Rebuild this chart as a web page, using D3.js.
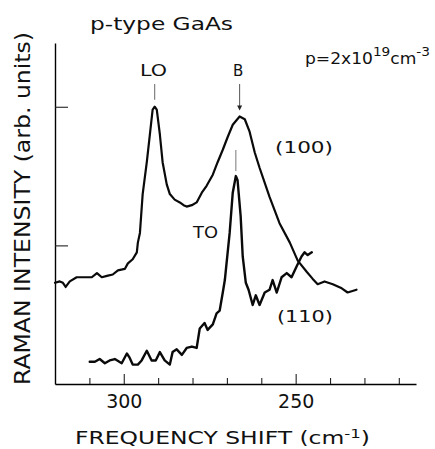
<!DOCTYPE html>
<html>
<head>
<meta charset="utf-8">
<script src="https://cdn.jsdelivr.net/npm/d3@7"></script>
<style>
  body { margin: 0; background: #fff; }
  svg { display: block; }
  text { font-family: "DejaVu Sans", sans-serif; fill: #111; }
</style>
</head>
<body>
<svg id="chart" width="435" height="449"></svg>
<script>
// Raman spectra of heavily doped p-type GaAs, two crystal faces.
// Frequency shift (cm^-1) and intensity (arb. units).
const shift100 = [320.0, 318.6, 317.7, 316.9, 315.7, 313.7, 311.9, 309.3, 307.8, 306.4, 304.9, 303.2,
  301.7, 299.7, 298.8, 297.4, 296.2, 295.9, 295.3, 294.5, 293.3, 292.4, 291.6, 291.0, 290.4, 289.5,
  288.7, 287.5, 286.6, 285.2, 283.7, 282.6, 281.7, 280.2, 278.8, 277.3, 275.9, 274.1, 272.7, 271.2,
  269.8, 268.3, 266.3, 264.8, 263.4, 261.9, 260.5, 257.6, 254.7, 251.7, 249.4, 246.8, 245.1, 243.6,
  241.6, 239.2, 236.6, 234.9, 232.3];
const intensity100 = [0.73, 0.74, 0.73, 0.70, 0.74, 0.77, 0.77, 0.77, 0.80, 0.77, 0.78, 0.79,
  0.82, 0.83, 0.87, 0.90, 0.95, 1.02, 1.09, 1.37, 1.60, 1.80, 1.98, 2.00, 1.98, 1.80,
  1.60, 1.44, 1.37, 1.33, 1.31, 1.29, 1.28, 1.29, 1.31, 1.38, 1.43, 1.51, 1.60, 1.69,
  1.78, 1.87, 1.93, 1.91, 1.82, 1.67, 1.56, 1.35, 1.16, 1.02, 0.89, 0.81, 0.76, 0.72,
  0.74, 0.72, 0.69, 0.66, 0.68];

const shift110 = [309.9, 308.4, 307.0, 305.5, 304.1, 302.6, 300.6, 299.1, 298.3, 297.4, 295.9, 294.8,
  293.3, 291.9, 290.7, 289.5, 288.1, 286.6, 285.8, 284.6, 283.1, 281.7, 280.2, 278.8, 277.9, 276.5,
  275.6, 274.1, 273.0, 272.1, 271.2, 270.6, 269.2, 268.3, 267.4, 266.9, 266.0, 265.4, 264.5, 263.7,
  262.5, 261.6, 260.5, 259.0, 257.6, 256.7, 255.5, 254.1, 252.6, 251.2, 249.7, 248.3, 247.4, 246.5,
  245.3];
const intensity110 = [0.16, 0.16, 0.18, 0.15, 0.17, 0.18, 0.15, 0.22, 0.19, 0.14, 0.14, 0.17,
  0.24, 0.17, 0.17, 0.23, 0.17, 0.14, 0.23, 0.25, 0.21, 0.26, 0.27, 0.26, 0.40, 0.44,
  0.39, 0.43, 0.51, 0.53, 0.66, 0.75, 1.09, 1.38, 1.50, 1.47, 1.21, 0.92, 0.73, 0.68,
  0.57, 0.64, 0.57, 0.66, 0.68, 0.75, 0.66, 0.77, 0.80, 0.77, 0.85, 0.92, 0.95, 0.93,
  0.95];

const xTicks = [310, 300, 290, 280, 270, 260, 250, 240, 230, 220];
const xTickLabels = [300, 250];
const yTicks = [1, 2];

// Peak markers
const peakLO = { shift: 291.0, intensity: 2.00 };
const peakB = { shift: 266.3, intensity: 1.93 };
const peakTO = { shift: 267.4, intensity: 1.50 };

const svg = d3.select("#chart");
const x = d3.scaleLinear().domain([320, 215]).range([55, 416]);
const y = d3.scaleLinear().domain([0, 2.46]).range([384, 43]);

// Bottom axis: minor ticks, then the labelled major ticks
const gx = svg.append("g").attr("transform", `translate(0,${y(0)})`);
gx.call(d3.axisBottom(x).tickValues(xTicks.filter(t => !xTickLabels.includes(t)))
  .tickSizeInner(-6).tickSizeOuter(0).tickFormat(""));
const gx2 = svg.append("g").attr("transform", `translate(0,${y(0)})`);
gx2.call(d3.axisBottom(x).tickValues(xTickLabels)
  .tickSizeInner(-10).tickSizeOuter(0).tickPadding(11).tickFormat(d3.format("d")));
gx2.select(".domain").remove();
gx.select(".domain").attr("stroke-width", 1.6);
svg.selectAll(".tick line").attr("stroke", "#222").attr("stroke-width", 1.1);
gx2.selectAll(".tick text").attr("font-size", 19).attr("font-family", "DejaVu Sans").attr("fill", "#111");

// Left axis with inward ticks
const gy = svg.append("g").attr("transform", `translate(${x(320)},0)`);
gy.call(d3.axisLeft(y).tickValues(yTicks).tickSizeInner(-13).tickSizeOuter(0).tickFormat(""));
gy.select(".domain").attr("stroke-width", 1.4);
gy.selectAll(".tick line").attr("stroke", "#222").attr("stroke-width", 1.1);

// Spectra
const line = d3.line().x(d => x(d[0])).y(d => y(d[1]));
const spec100 = shift100.map((s, i) => [s, intensity100[i]]);
const spec110 = shift110.map((s, i) => [s, intensity110[i]]);
svg.append("path").datum(spec100).attr("d", line)
  .attr("fill", "none").attr("stroke", "#0a0a0a").attr("stroke-width", 2.2)
  .attr("stroke-linejoin", "round").attr("stroke-linecap", "round");
svg.append("path").datum(spec110).attr("d", line)
  .attr("fill", "none").attr("stroke", "#0a0a0a").attr("stroke-width", 2.4)
  .attr("stroke-linejoin", "round").attr("stroke-linecap", "round");

// Peak marker lines
svg.append("line").attr("x1", x(peakLO.shift)).attr("x2", x(peakLO.shift))
  .attr("y1", 84).attr("y2", y(peakLO.intensity) - 7)
  .attr("stroke", "#666").attr("stroke-width", 1);
svg.append("line").attr("x1", x(peakTO.shift)).attr("x2", x(peakTO.shift))
  .attr("y1", 150).attr("y2", y(peakTO.intensity) - 5)
  .attr("stroke", "#777").attr("stroke-width", 1);
const bx = x(peakB.shift), by = y(peakB.intensity) - 6;
svg.append("line").attr("x1", bx).attr("x2", bx).attr("y1", 84).attr("y2", by - 3)
  .attr("stroke", "#555").attr("stroke-width", 1);
svg.append("path").attr("d", `M${bx - 2.5},${by - 5} L${bx + 2.5},${by - 5} L${bx},${by} Z`)
  .attr("fill", "#222");

// Labels
function label(t, px, py, size, len) {
  const el = svg.append("text").attr("x", px).attr("y", py).attr("font-size", size).text(t);
  if (len) el.attr("textLength", len).attr("lengthAdjust", "spacingAndGlyphs");
  return el;
}
label("p-type GaAs", 90, 30, 17, 143);
label("LO", 140, 76, 15, 27);
label("B", 233, 76, 15);
label("(100)", 275, 153, 15, 58);
label("TO", 193, 238, 15, 25);
label("(110)", 277, 322, 15, 56);

// Carrier concentration
const conc = svg.append("text").attr("x", 305).attr("y", 64).attr("font-size", 15)
  .attr("textLength", 125).attr("lengthAdjust", "spacingAndGlyphs");
conc.append("tspan").text("p=2x10");
conc.append("tspan").attr("dy", -8).attr("font-size", 12).text("19");
conc.append("tspan").attr("dy", 8).text("cm");
conc.append("tspan").attr("dy", -8).attr("font-size", 12).text("-3");

// Axis titles
const xt = svg.append("text").attr("x", 75).attr("y", 444).attr("font-size", 17)
  .attr("textLength", 295).attr("lengthAdjust", "spacingAndGlyphs");
xt.append("tspan").text("FREQUENCY SHIFT (cm");
xt.append("tspan").attr("dy", -6).attr("font-size", 12).text("-1");
xt.append("tspan").attr("dy", 6).text(")");

svg.append("text").attr("transform", "translate(30,385) rotate(-90)")
  .attr("font-size", 21).attr("textLength", 353).attr("lengthAdjust", "spacingAndGlyphs")
  .text("RAMAN INTENSITY (arb. units)");
</script>
</body>
</html>
